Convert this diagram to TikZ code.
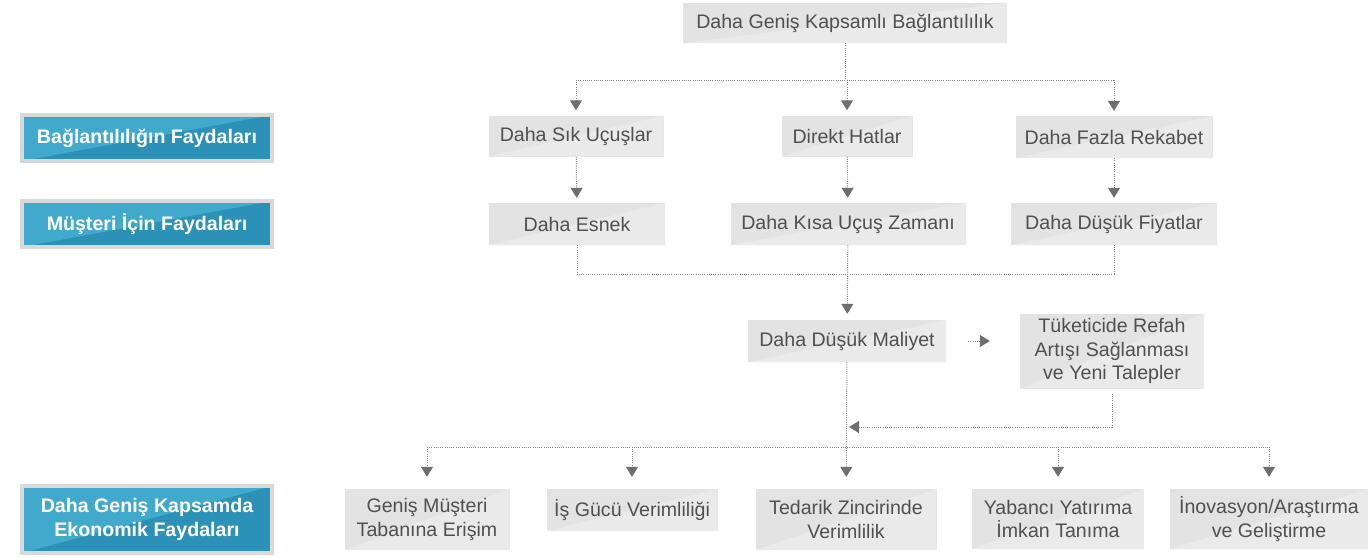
\documentclass[tikz,border=0pt]{standalone}
\usepackage{fontspec}
\setmainfont{Liberation Sans}
\usetikzlibrary{arrows.meta}
\definecolor{boxgrey}{HTML}{E3E3E3}
\definecolor{boxlight}{HTML}{EAEAEA}
\definecolor{txtgrey}{HTML}{505050}
\definecolor{bluelight}{HTML}{41A9CC}
\definecolor{bluedark}{HTML}{2C91B7}
\definecolor{framegrey}{HTML}{D9D9D9}
\definecolor{linegrey}{HTML}{858585}
\definecolor{tipgrey}{HTML}{6E6E6E}

\tikzset{
  item/.style={fill=boxgrey, text=txtgrey, font=\fontsize{19.6}{23.5}\selectfont,
    align=center, inner sep=0pt,
    path picture={\fill[boxlight] (path picture bounding box.south west)
      -- (path picture bounding box.north east)
      -- (path picture bounding box.south east) -- cycle;}},
  side/.style={draw=framegrey, line width=4pt, fill=bluedark, text=white,
    font=\bfseries\fontsize{19.6}{23.5}\selectfont, align=center, inner sep=0pt,
    minimum width=250pt,
    path picture={\fill[bluelight] (path picture bounding box.south west)
      -- (path picture bounding box.north west)
      -- (path picture bounding box.north east) -- cycle;}},
  link/.style={linegrey, line width=1pt, dash pattern=on 1pt off 1.2pt},
  flow/.style={link, -{Triangle[width=12pt,length=10pt,color=tipgrey,fill=tipgrey]}},
}

\begin{document}
\begin{tikzpicture}[x=1pt, y=-1pt]
  \useasboundingbox (0,0) rectangle (1371,557);
  % Left labels
  \node[side, minimum height=46pt] (bene) at (147,138) {Bağlantılılığın Faydaları};
  \node[side, minimum height=46pt] (cust) at (147,224) {Müşteri İçin Faydaları};
  \node[side, minimum height=67pt] (econ) at (147,519.5) {Daha Geniş Kapsamda\\Ekonomik Faydaları};
  % Boxes
  \node[item, minimum width=324pt, minimum height=40pt] (top) at (845,23) {Daha Geniş Kapsamlı Bağlantılılık};
  \node[item, minimum width=175pt, minimum height=41pt] (freq) at (576,136) {Daha Sık Uçuşlar};
  \node[item, minimum width=131pt, minimum height=41pt] (direct) at (847,136) {Direkt Hatlar};
  \node[item, minimum width=197pt, minimum height=42pt] (compet) at (1114,137) {Daha Fazla Rekabet};
  \node[item, minimum width=176pt, minimum height=42pt] (flex) at (577,224) {Daha Esnek};
  \node[item, minimum width=235pt, minimum height=42pt] (shorter) at (848,224) {Daha Kısa Uçuş Zamanı};
  \node[item, minimum width=206pt, minimum height=42pt] (cheaper) at (1114,224) {Daha Düşük Fiyatlar};
  \node[item, minimum width=198pt, minimum height=42pt] (cost) at (847,341) {Daha Düşük Maliyet};
  \node[item, minimum width=184pt, minimum height=75pt] (welfare) at (1112,351) {Tüketicide Refah\\Artışı Sağlanması\\ve Yeni Talepler};
  \node[item, minimum width=165pt, minimum height=61pt] (reach) at (427,519.5) {Geniş Müşteri\\Tabanına Erişim};
  \node[item, minimum width=171pt, minimum height=42pt] (labour) at (632,510) {İş Gücü Verimliliği};
  \node[item, minimum width=181pt, minimum height=61pt] (supply) at (846,519.5) {Tedarik Zincirinde\\Verimlilik};
  \node[item, minimum width=172pt, minimum height=60pt] (invest) at (1058,519) {Yabancı Yatırıma\\İmkan Tanıma};
  \node[item, minimum width=198pt, minimum height=60pt] (innov) at (1269,519) {İnovasyon/Araştırma\\ve Geliştirme};
  % Bus points
  \coordinate (b1) at (845,80);
  \coordinate (b3) at (847,427);
  \coordinate (b4) at (847,447);
  % Connectors
  \draw[link] (top) -- (b1);
  \draw[link] (freq.north |- b1) -- (compet.north |- b1);
  \foreach \n in {freq,direct,compet}
    \draw[flow, shorten >=5pt] (\n.north |- b1) -- (\n.north);
  \draw[flow, shorten >=5pt] (freq) -- (flex);
  \draw[flow, shorten >=5pt] (direct) -- (shorter);
  \draw[flow, shorten >=5pt] (compet) -- (cheaper);
  \draw[link] (flex.south) |- (cheaper.south |- 0,274) -- (cheaper.south);
  \draw[flow, shorten >=6pt] (shorter) -- (cost);
  \draw[flow, shorten <=22pt, shorten >=30pt] (cost.east) -- (cost.east -| welfare.west);
  \draw[flow, shorten <=5pt, shorten >=2pt] (welfare.south) |- (b3);
  \draw[link] (reach.north |- b4) -- (innov.north |- b4);
  \draw[flow, shorten >=12pt] (cost) -- (supply);
  \foreach \n in {reach,labour,invest,innov}
    \draw[flow, shorten >=12pt] (\n.north |- b4) -- (\n.north);
\end{tikzpicture}
\end{document}
